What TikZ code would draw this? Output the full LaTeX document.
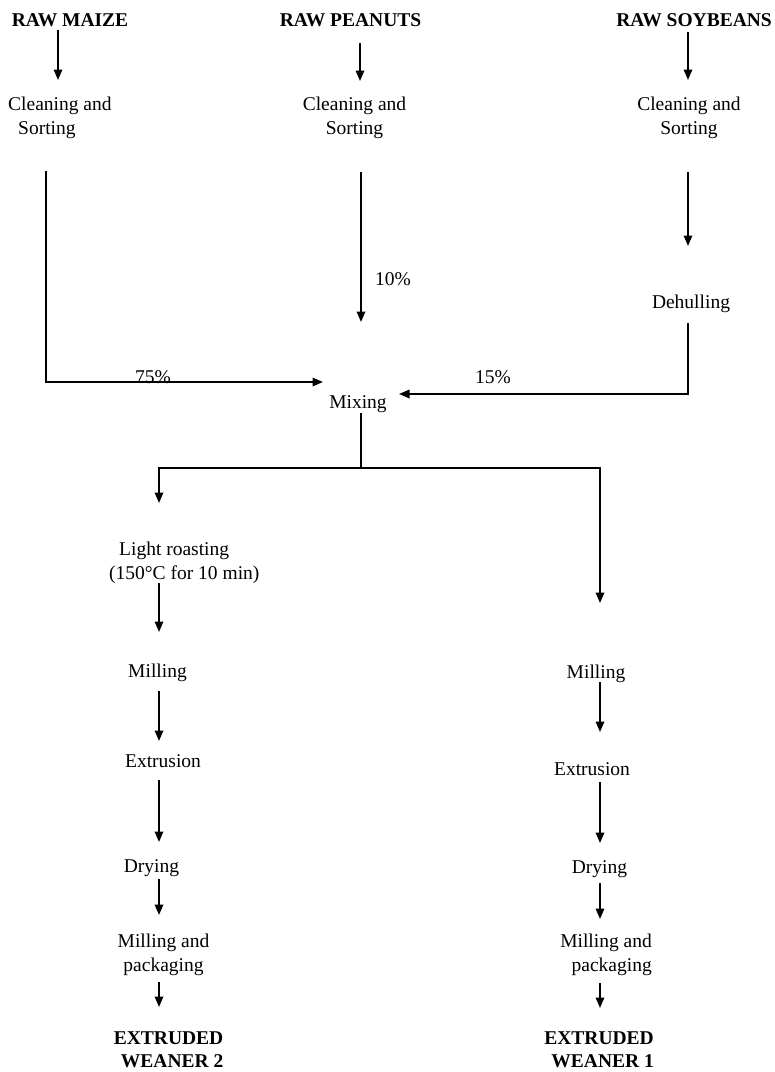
\documentclass[tikz,border=0pt]{standalone}
\usepackage{fontspec}
\setmainfont{Liberation Serif}
\usetikzlibrary{arrows.meta}
\begin{document}
\begin{tikzpicture}[x=1pt,y=-1pt,
  lbl/.style={inner sep=0pt, font=\fontsize{19.5}{24.5}\selectfont},
  hd/.style={inner sep=0pt, font=\fontsize{19.5}{23.5}\selectfont\bfseries},
  ln/.style={line width=1.7pt, line join=miter},
  arr/.style={ln, -{Triangle[length=10.5pt,width=8.5pt]}},
]
\useasboundingbox (0,0) rectangle (775,1072);
\fill[white] (0,0) rectangle (775,1072);

% headings
\node[hd,anchor=base] (rawmaize) at (70,26) {RAW MAIZE};
\node[hd,anchor=base] (rawpeanuts) at (350.5,26) {RAW PEANUTS};
\node[hd,anchor=base east] (rawsoy) at (772,26) {RAW SOYBEANS};

% cleaning
\node[lbl,anchor=north west,align=left] (clean1) at (8,96.7) {Cleaning and\\\hspace*{10pt}Sorting};
\node[lbl,anchor=north,align=center] (clean2) at (354.5,96.7) {Cleaning and\\Sorting};
\node[lbl,anchor=north,align=center] (clean3) at (689,96.7) {Cleaning and\\Sorting};

\node[lbl,anchor=base west] (p10) at (375,285) {10\%};
\node[lbl,anchor=base] (dehull) at (691,308) {Dehulling};
\node[lbl,anchor=base west] (p75) at (135,383) {75\%};
\node[lbl,anchor=base west] (p15) at (475,383) {15\%};
\node[lbl,anchor=base] (mix) at (358,408) {Mixing};

% left branch
\node[lbl,anchor=north west,align=left] (roast) at (109,541.6) {\hspace*{10pt}Light roasting\\(150°C for 10 min)};
\node[lbl,anchor=base] (millL) at (157.5,677) {Milling};
\node[lbl,anchor=base] (extL) at (163,767) {Extrusion};
\node[lbl,anchor=base] (dryL) at (151.5,872) {Drying};
\node[lbl,anchor=north,align=center] (packL) at (163.5,933.6) {Milling and\\packaging};
\node[hd,anchor=north east,align=right] (weaner2) at (223.5,1031.5) {EXTRUDED\\WEANER 2};

% right branch
\node[lbl,anchor=base] (millR) at (596,678) {Milling};
\node[lbl,anchor=base] (extR) at (592,775) {Extrusion};
\node[lbl,anchor=base] (dryR) at (599.5,873) {Drying};
\node[lbl,anchor=north east,align=right] (packR) at (652,933.6) {Milling and\\packaging};
\node[hd,anchor=north east,align=right] (weaner1) at (654,1031.5) {EXTRUDED\\WEANER 1};

% junction coordinates
\coordinate (jm) at (46,382);
\coordinate (js) at (688,394);
\coordinate (jsplit) at (361,468);
\coordinate (jl) at (159,468);
\coordinate (jr) at (600,468);

% top arrows
\draw[arr] (58,30) -- (58,80);
\draw[arr] (360,43) -- (360,81);
\draw[arr] (688,32) -- (688,80);

% to mixing
\draw[arr] (46,171) -- (jm) -- (323,382);
\draw[arr] (361,172) -- (361,322);
\draw[arr] (688,172) -- (688,246);
\draw[arr] (688,323) -- (js) -- (399,394);

% split
\draw[ln] (361,413) -- (jsplit);
\draw[arr] (jsplit) -- (jl) -- (159,503);
\draw[arr] (jsplit) -- (jr) -- (600,603);

% left column
\draw[arr] (159,583) -- (159,632);
\draw[arr] (159,691) -- (159,741);
\draw[arr] (159,780) -- (159,842);
\draw[arr] (159,879) -- (159,915);
\draw[arr] (159,982) -- (159,1007);

% right column
\draw[arr] (600,682) -- (600,732);
\draw[arr] (600,782) -- (600,843);
\draw[arr] (600,883) -- (600,919);
\draw[arr] (600,983) -- (600,1008);
\end{tikzpicture}
\end{document}
